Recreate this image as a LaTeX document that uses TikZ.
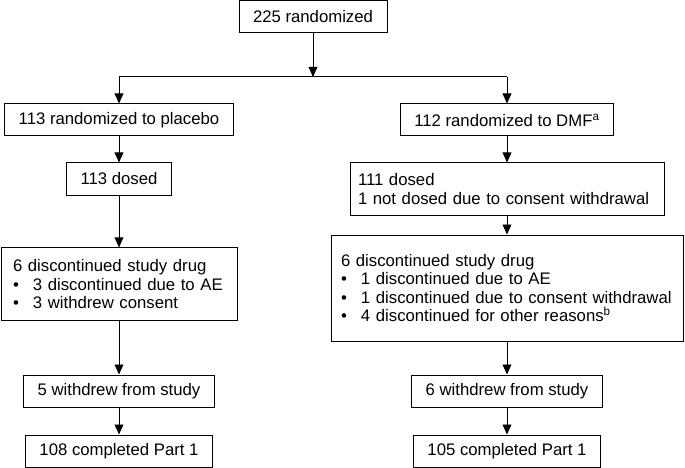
\documentclass[tikz,border=0pt]{standalone}
\usepackage{fontspec}
\setmainfont{Liberation Sans}
\usetikzlibrary{arrows.meta}
\newcommand{\bul}{\makebox[0.5cm][l]{\textbullet}}
\tikzset{
	box/.style={draw, line width=0.7pt, inner xsep=0.35cm, inner ysep=0pt, minimum height=0.8cm, font=\fontsize{11.9pt}{13.2pt}\selectfont},
	listbox/.style={box, align=left, inner xsep=0.3cm},
	flow/.style={line width=0.7pt, -{Triangle[length=0.25cm,width=0.22cm]}},
}

\begin{document}
\begin{tikzpicture}
		%%%%% START %%%%%
		\useasboundingbox (0, 0) rectangle (17.125, 11.7);
		
		\node[box] (rand) at (7.825, 11.29) {225 randomized};
		\coordinate (split) at (7.825, 9.775);
		\coordinate (splitL) at (2.975, 9.775);
		\coordinate (splitR) at (12.675, 9.775);
		
		% placebo arm
		\node[box] (plac) at (2.975, 8.7) {113 randomized to placebo};
		\node[box] (dosedL) at (2.975, 7.225) {113 dosed};
		\node[listbox, text width=5.3cm, minimum height=1.825cm] (discL) at (2.975, 4.59) {6 discontinued study drug\\\bul 3 discontinued due to AE\\\bul 3 withdrew consent};
		\node[box] (wdL) at (2.975, 1.925) {5 withdrew from study};
		\node[box] (compL) at (2.975, 0.425) {108 completed Part 1};
		
		% DMF arm
		\node[box] (dmf) at (12.675, 8.7) {112 randomized to DMF\textsuperscript{a}};
		\node[listbox, text width=7.45cm, inner xsep=0.2cm, minimum height=1.3cm] (dosedR) at (12.675, 6.975) {111 dosed\\\mbox{1 not dosed due to consent withdrawal}};
		\node[listbox, text width=8.3cm, inner xsep=0.25cm, minimum height=2.65cm] (discR) at (12.675, 4.5) {6 discontinued study drug\\\bul 1 discontinued due to AE\\\bul 1 discontinued due to consent withdrawal\\\bul 4 discontinued for other reasons\textsuperscript{b}};
		\node[box] (wdR) at (12.675, 1.925) {6 withdrew from study};
		\node[box] (compR) at (12.675, 0.425) {105 completed Part 1};
		
		\draw[flow] (rand) -- (split);
		\draw[line width=0.7pt] (splitL) -- (splitR);
		\draw[flow] (splitL) -- (plac);
		\draw[flow] (splitR) -- (dmf);
		
		\draw[flow] (plac) -- (dosedL);
		\draw[flow] (dosedL) -- (discL);
		\draw[flow] (discL) -- (wdL);
		\draw[flow] (wdL) -- (compL);
		
		\draw[flow] (dmf) -- (dosedR);
		\draw[flow] (dosedR) -- (discR);
		\draw[flow] (discR) -- (wdR);
		\draw[flow] (wdR) -- (compR);
		
		%%%%% END %%%%%
\end{tikzpicture}
\end{document}
